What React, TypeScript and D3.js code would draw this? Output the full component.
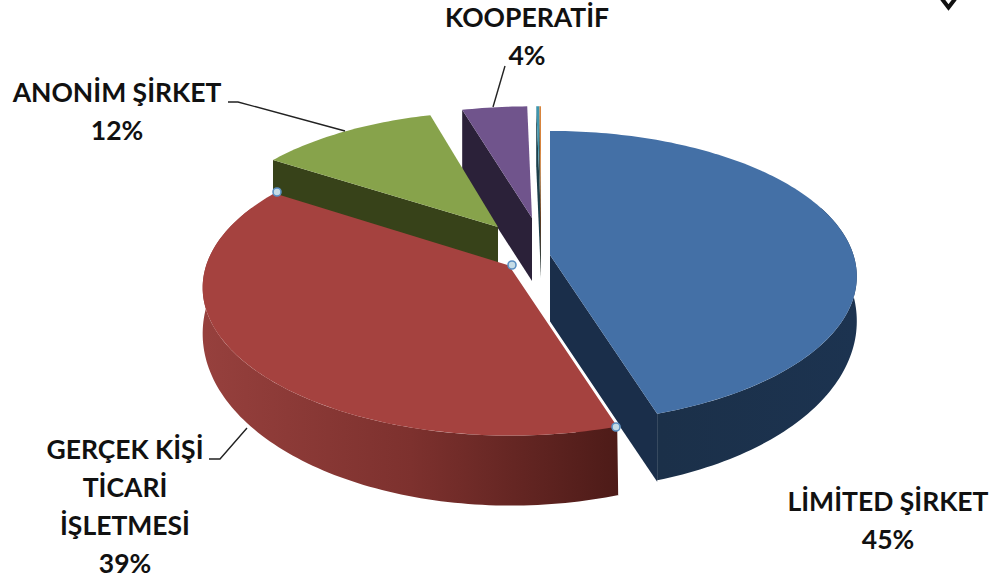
import React from "react";
import * as d3 from "d3";

const categories = ["LİMİTED ŞİRKET", "GERÇEK KİŞİ TİCARİ İŞLETMESİ", "ANONİM ŞİRKET", "KOOPERATİF", "DİĞER A", "DİĞER B"];
const values = [45, 39, 11.6, 4.1, 0.2, 0.1];
const topColors = ["#4470a6", "#a5423f", "#87a34b", "#70548c", "#3f96ae", "#d8843c"];
const cutColors = ["#1a2e4a", "#5a1f1c", "#374219", "#2b2139", "#1c3f4a", "#6a3d1c"];

type Lay = { cx: number; cy: number; kx: number; ky: number; depth: number };
const layout: Lay[] = [
  { cx: 550, cy: 255, kx: 0.995, ky: 1, depth: 68 },
  { cx: 511, cy: 266, kx: 1, ky: 1.01, depth: 70 },
  { cx: 498, cy: 227, kx: 0.95, ky: 0.93, depth: 70 },
  { cx: 532, cy: 218, kx: 0.98, ky: 0.9, depth: 63 },
  { cx: 541, cy: 218, kx: 0.98, ky: 0.9, depth: 60 },
  { cx: 541, cy: 218, kx: 0.98, ky: 0.9, depth: 60 },
];

const labelBlocks = [
  { lines: ["LİMİTED ŞİRKET", "45%"], x: 888, y: 511 },
  { lines: ["GERÇEK KİŞİ", "TİCARİ", "İŞLETMESİ", "39%"], x: 125, y: 458.5 },
  { lines: ["ANONİM ŞİRKET", "12%"], x: 117, y: 102 },
  { lines: ["KOOPERATİF", "4%"], x: 527, y: 27 },
];
const leaders = [
  [[228, 102], [238, 102], [345, 131]],
  [[505, 66], [493, 107]],
  [[209, 459], [220, 459], [247, 428]],
];
const markers = [[277, 192], [512, 265], [616, 427]];
const chevron = [[942, -1], [948.5, 7.5], [955, -1]];

const RX = 305, RY = 146, P = 0.15;
const pieGen = d3.pie<number>().sort(null).value((d) => d);
const arcs = pieGen(values);

const line = d3.line<number[]>().x((d) => d[0]).y((d) => d[1]);

function proj(l: Lay, a: number, dy = 0): number[] {
  const X = Math.sin(a), Y = -Math.cos(a), s = 1 + P * Y;
  return [l.cx + X * RX * s * l.kx, l.cy + Y * RY * s * l.ky + dy];
}
function arcPts(l: Lay, a0: number, a1: number, wall = false): number[][] {
  const n = Math.max(2, Math.ceil(Math.abs(a1 - a0) / 0.02));
  return d3.range(n + 1).map((i) => {
    const a = a0 + ((a1 - a0) * i) / n;
    const taper = 1 + 0.4 * (-Math.cos(a) - 1);
    return proj(l, a, wall ? l.depth * taper : 0);
  });
}
const deg = (d: number) => (d * Math.PI) / 180;

function Slice({ i }: { i: number }) {
  const l = layout[i], a = arcs[i];
  const top = [[l.cx, l.cy], ...arcPts(l, a.startAngle, a.endAngle)];
  const parts: React.ReactNode[] = [];
  const cutA = i === 0 ? a.endAngle : a.startAngle;
  const cutP = proj(l, cutA);
  parts.push(
    <path key="cut" fill={cutColors[i]} d={line([[l.cx, l.cy], cutP, [cutP[0], cutP[1] + l.depth], [l.cx, l.cy + l.depth]])! + "Z"} />
  );
  if (i === 0) {
    const w0 = deg(70), w1 = a.endAngle;
    parts.push(
      <path key="wall" fill="url(#gBlue)" d={line([...arcPts(l, w0, w1), ...arcPts(l, w1, w0, true)])! + "Z"} />
    );
  }
  if (i === 1) {
    const w0 = a.startAngle, w1 = deg(295);
    parts.push(
      <path key="wall" fill="url(#gRed)" d={line([...arcPts(l, w0, w1), ...arcPts(l, w1, w0, true)])! + "Z"} />
    );
  }
  parts.push(<path key="top" fill={topColors[i]} d={line(top)! + "Z"} />);
  if (i === 1) {
    const tip = proj(l, a.startAngle);
    parts.push(
      <path key="edge" fill="none" stroke="#fff" strokeWidth={3} d={line([[l.cx, l.cy], tip, [tip[0] + 1, tip[1] + l.depth]])!} />
    );
  }
  return <g>{parts}</g>;
}

const drawOrder = [3, 4, 5, 2, 0, 1];

export default function App() {
  return (
    <svg width={989} height={578} viewBox="0 0 989 578" style={{ position: "absolute", left: 0, top: 0, display: "block", background: "#fff" }}>
      <defs>
        <linearGradient id="gRed" gradientUnits="userSpaceOnUse" x1={205} x2={617} y1={0} y2={0}>
          <stop offset="0" stopColor="#96403d" />
          <stop offset="0.5" stopColor="#7d312e" />
          <stop offset="1" stopColor="#4d1b18" />
        </linearGradient>
        <linearGradient id="gBlue" gradientUnits="userSpaceOnUse" x1={660} x2={858} y1={0} y2={0}>
          <stop offset="0" stopColor="#1b3049" />
          <stop offset="1" stopColor="#1c3350" />
        </linearGradient>
      </defs>
      {drawOrder.map((i) => <Slice key={categories[i]} i={i} />)}
      {leaders.map((pts, i) => (
        <path key={i} d={line(pts)!} fill="none" stroke="#222" strokeWidth={1.4} />
      ))}
      {markers.map((m, i) => (
        <circle key={i} cx={m[0]} cy={m[1]} r={4} fill="#c5dce6" stroke="#5a8fc2" strokeWidth={1.6} />
      ))}
      <path d={line(chevron)!} fill="none" stroke="#111" strokeWidth={4} />
      {labelBlocks.map((b, i) => (
        <text key={i} textAnchor="middle" fontFamily="Lato, 'Open Sans', sans-serif" fontWeight={700} fontSize={26.5} fill="#111">
          {b.lines.map((t, j) => (
            <tspan key={j} x={b.x} y={b.y + j * 38}>{t}</tspan>
          ))}
        </text>
      ))}
    </svg>
  );
}
